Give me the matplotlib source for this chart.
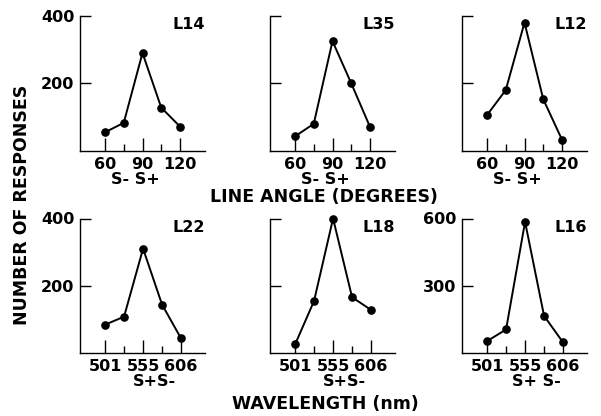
import matplotlib
matplotlib.use("Agg")
import matplotlib.pyplot as plt
import matplotlib.transforms as mtransforms

# ---- data ----
angles = [60, 75, 90, 105, 120]
angle_ticks = [60, 90, 120]
angle_ticklabels = ["60", "90", "120"]

wl_pos = [0, 1, 2, 3, 4]
wl_ticks = [0, 2, 4]
wl_ticklabels = ["501", "555", "606"]

L14 = [54, 82, 289, 127, 71]
L35 = [42, 79, 324, 199, 70]
L12 = [105, 179, 379, 152, 32]
L22 = [83, 107, 310, 143, 42]
L18 = [24, 154, 400, 165, 127]
L16 = [51, 103, 585, 164, 45]

panels = [
    # name, x, y, ylim top, yticks, ytick labels, stim label, kind
    ("L14", angles, L14, 400, [200, 400], ["200", "400"], "S- S+", "angle"),
    ("L35", angles, L35, 400, [200, 400], ["", ""], "S- S+", "angle"),
    ("L12", angles, L12, 400, [200, 400], ["", ""], "S- S+", "angle"),
    ("L22", wl_pos, L22, 400, [200, 400], ["200", "400"], "S+S-", "wl"),
    ("L18", wl_pos, L18, 400, [200, 400], ["", ""], "S+S-", "wl"),
    ("L16", wl_pos, L16, 600, [300, 600], ["300", "600"], "S+ S-", "wl"),
]

W, H = 601, 416
fig = plt.figure(figsize=(W / 100, H / 100), dpi=100)
plt.rcParams["font.family"] = ["DejaVu Sans"]

lefts = [80, 270, 462]
row_tb = [(15.5, 150.5), (218.5, 352.5)]
ax_w = 125

tick_font = dict(fontsize=11.5, fontweight="bold")

for i, (name, xs, ys, ytop, yt, ytl, stim, kind) in enumerate(panels):
    r, c = divmod(i, 3)
    top, bot = row_tb[r]
    ax = fig.add_axes([lefts[c] / W, (H - bot) / H, ax_w / W, (bot - top) / H])
    ax.plot(xs, ys, color="black", lw=1.4, marker="o", ms=5.2, mfc="black",
            mec="black", clip_on=False, zorder=3)
    ax.set_ylim(0, ytop)
    if kind == "angle":
        ax.set_xlim(40, 140)
        ax.set_xticks(angle_ticks)
        ax.set_xticklabels(angle_ticklabels, **tick_font)
        ax.set_xticks([75, 105], minor=True)
        stim_x = 84
    else:
        ax.set_xlim(-1.32, 5.26)
        ax.set_xticks(wl_ticks)
        ax.set_xticklabels(wl_ticklabels, **tick_font)
        ax.set_xticks([1, 3], minor=True)
        stim_x = 2.6
    ax.set_yticks(yt)
    ax.set_yticklabels(ytl, **tick_font)
    ax.tick_params(axis="x", which="major", direction="in", length=9.5, width=1.0, pad=5)
    ax.tick_params(axis="x", which="minor", direction="in", length=5, width=1.0)
    ax.tick_params(axis="y", which="major", direction="in", length=8, width=1.0, pad=4)
    for s in ("top", "right"):
        ax.spines[s].set_visible(False)
    for s in ("left", "bottom"):
        ax.spines[s].set_linewidth(1.0)
    ax.patch.set_visible(False)
    ax.text(1.0, 0.935, name, transform=ax.transAxes, ha="right", va="center",
            fontsize=11.5, fontweight="bold")
    trans = mtransforms.blended_transform_factory(ax.transData, ax.transAxes)
    ax.text(stim_x, -0.215, stim, transform=trans, ha="center", va="center",
            fontsize=11.5, fontweight="bold")

fig.text(324 / W, 1 - 197 / H, "LINE ANGLE (DEGREES)", ha="center", va="center",
         fontsize=12.5, fontweight="bold")
fig.text(325 / W, 1 - 404 / H, "WAVELENGTH (nm)", ha="center", va="center",
         fontsize=12.5, fontweight="bold")
fig.text(22 / W, 1 - 205 / H, "NUMBER OF RESPONSES", ha="center", va="center",
         rotation=90, fontsize=12.5, fontweight="bold")

fig.savefig("out.png", dpi=100)
